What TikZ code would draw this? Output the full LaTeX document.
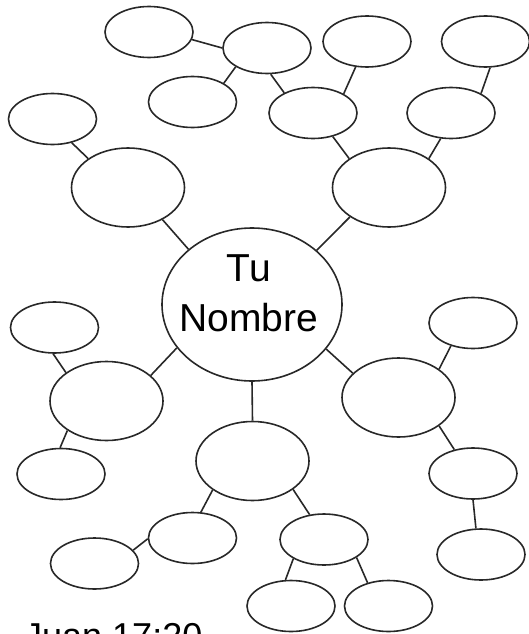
\documentclass[tikz,border=0pt]{standalone}
\usepackage{fontspec}
\setmainfont{Liberation Sans}
\usetikzlibrary{shapes.geometric}
\definecolor{ink}{RGB}{40,40,40}
\tikzset{
  bub/.style={ellipse, draw=ink, line width=1.6pt, inner sep=0pt, fill=white},
  sm/.style={bub, minimum width=88pt, minimum height=51pt},
  md/.style={bub, minimum width=113pt, minimum height=79pt},
  lnk/.style={draw=ink, line width=1.6pt}
}
\begin{document}
\begin{tikzpicture}[x=1pt,y=-1pt]
\useasboundingbox (0,0) rectangle (529,634);
% central
\node[bub, minimum width=180pt, minimum height=153pt] (c) at (252,304.5) {};
\node[font=\fontsize{39}{50}\selectfont, align=center, inner sep=0pt] (ct) at (249,293) {Tu\\Nombre};
% medium
\node[md] (e9) at (128,187.5) {};
\node[md] (e10) at (389,187.5) {};
\node[md] (e12) at (106.5,401) {};
\node[md] (e14) at (252.5,461) {};
\node[md] (e15) at (398.5,397.5) {};
% small
\node[sm] (e1) at (149,32) {};
\node[sm] (e2) at (267,48) {};
\node[sm] (e3) at (192.5,102) {};
\node[sm] (e4) at (367,41.5) {};
\node[sm] (e5) at (485.5,41.5) {};
\node[sm] (e6) at (313,113) {};
\node[sm] (e7) at (451,113) {};
\node[sm] (e8) at (52.5,119) {};
\node[sm] (e11) at (54.5,327.5) {};
\node[sm] (e13) at (61,474) {};
\node[sm] (e16) at (473,323) {};
\node[sm] (e17) at (473,473.5) {};
\node[sm] (e18) at (481,554.5) {};
\node[sm] (e19) at (192.5,538) {};
\node[sm] (e20) at (94.5,563.5) {};
\node[sm] (e21) at (324,539.5) {};
\node[sm] (e22) at (291,606) {};
\node[sm] (e23) at (388.5,606) {};
% connectors
\draw[lnk] (e1.-10) -- (e2.180);
\draw[lnk] (e2.211) -- (e3.31);
\draw[lnk] (e2.-82) -- (e6.145);
\draw[lnk] (e4.246) -- (e6.32);
\draw[lnk] (e5.-80) -- (e7.33);
\draw[lnk] (e6.-50) -- (e10.144);
\draw[lnk] (e7.248) -- (e10.36);
\draw[lnk] (e8.-51) -- (e9.144);
\draw[lnk] (e9.-43) -- (c.139);
\draw[lnk] (c.40) -- (e10.217);
\draw[lnk] (e11.-93) -- (e12.145);
\draw[lnk] (c.210) -- (e12.30);
\draw[lnk] (e12.217) -- (e13.92);
\draw[lnk] (c.-90) -- (e14.90);
\draw[lnk] (c.-31) -- (e15.152);
\draw[lnk] (e16.226) -- (e15.35);
\draw[lnk] (e15.-35) -- (e17.128);
\draw[lnk] (e17.-90) -- (e18.101);
\draw[lnk] (e14.216) -- (e19.72);
\draw[lnk] (e14.-35) -- (e21.120);
\draw[lnk] (e19.181) -- (e20.19);
\draw[lnk] (e21.212) -- (e22.102);
\draw[lnk] (e21.-29) -- (e23.132);
% verse
\node[font=\fontsize{36}{43}\selectfont, anchor=base west, inner sep=0pt] (verse) at (24,648) {Juan 17:20};
\end{tikzpicture}
\end{document}
